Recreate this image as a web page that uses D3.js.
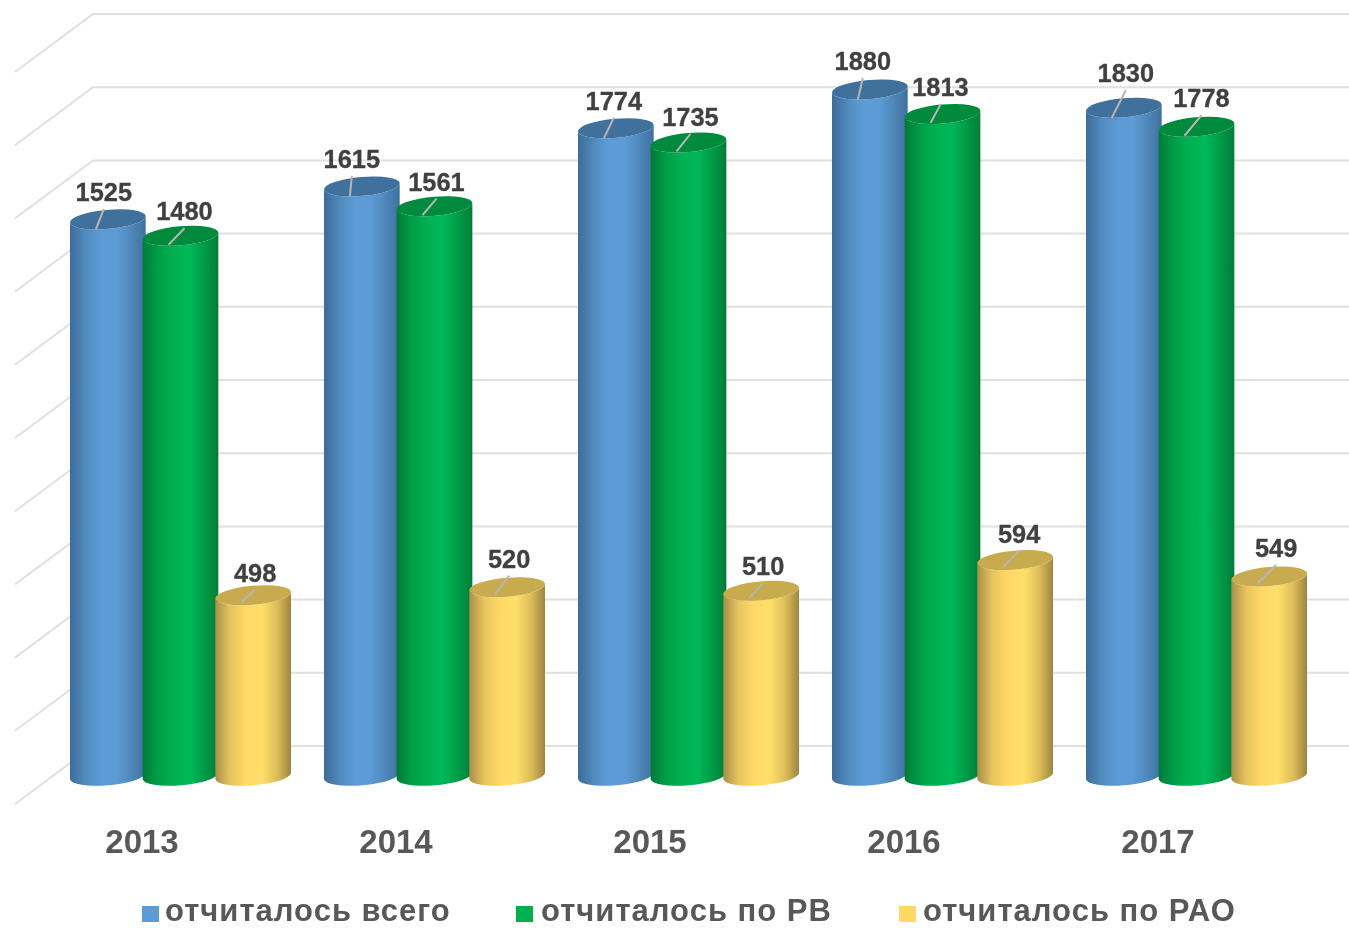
<!DOCTYPE html>
<html>
<head>
<meta charset="utf-8">
<script src="https://d3js.org/d3.v7.min.js"></script>
<style>
  html, body { margin: 0; padding: 0; background: #fff; }
  svg { display: block; }
  text { font-family: "Liberation Sans", Arial, sans-serif; font-weight: bold; }
</style>
</head>
<body>
<div id="chart"></div>
<script>
const years = ['2013', '2014', '2015', '2016', '2017']
const total = [1525, 1615, 1774, 1880, 1830]
const rv = [1480, 1561, 1735, 1813, 1778]
const rao = [498, 520, 510, 594, 549]
const seriesNames = ['отчиталось всего', 'отчиталось по РВ', 'отчиталось по РАО']
const seriesValues = [total, rv, rao]
const gridTicks = [0, 200, 400, 600, 800, 1000, 1200, 1400, 1600, 1800, 2000]

const width = 1349
const height = 928

// depth of the 3d box: back wall is shifted from the front plane by this much
const depthX = 78
const depthY = -58
const rx = 38
const ry = 9.5
const tilt = -5 * Math.PI / 180
const barDrop = 2.5

const palette = [
  { legend: '#5b9bd5', top: '#41719c', stops: ['#3d6c98', '#5089bd', '#5b9bd5', '#5b9bd5', '#4f86b8', '#3f729f'] },
  { legend: '#00b050', top: '#008a3e', stops: ['#007a37', '#009e48', '#00b050', '#00b857', '#009a46', '#007d39'] },
  { legend: '#ffd966', top: '#c9ab50', stops: ['#a8904a', '#e6c45e', '#ffd966', '#ffdf68', '#dcbc58', '#9c8540'] }
]

const svg = d3
  .select('#chart')
  .append('svg')
  .attr('width', width)
  .attr('height', height)

const defs = svg.append('defs')

defs
  .append('filter')
  .attr('id', 'soft')
  .attr('x', '-5%')
  .attr('y', '-5%')
  .attr('width', '110%')
  .attr('height', '110%')
  .append('feGaussianBlur')
  .attr('stdDeviation', 0.7)

palette.forEach((p, i) => {
  const grad = defs
    .append('linearGradient')
    .attr('id', 'cyl' + i)
    .attr('x1', 0)
    .attr('x2', 1)
    .attr('y1', 0)
    .attr('y2', 0)
  const offsets = [0, 0.2, 0.4, 0.62, 0.82, 1]
  p.stops.forEach((c, j) => {
    grad
      .append('stop')
      .attr('offset', offsets[j])
      .attr('stop-color', c)
  })
})

const root = svg.append('g').attr('filter', 'url(#soft)')

const xScale = d3
  .scaleBand()
  .domain(years)
  .range([15, 1285])

const seriesScale = d3
  .scaleBand()
  .domain(d3.range(seriesNames.length))
  .range([-109, 109])

const yScale = d3
  .scaleLinear()
  .domain([0, 2000])
  .range([804, 72])

// grid on the back wall plus the slanted part on the side wall
const grid = root.append('g')
gridTicks.forEach(t => {
  const y = yScale(t)
  grid
    .append('path')
    .attr('d', 'M15,' + y + 'L' + (15 + depthX) + ',' + (y + depthY) + 'H' + width)
    .attr('fill', 'none')
    .attr('stroke', '#e0e0e0')
    .attr('stroke-width', 2)
})

function cylinderPath(cx, yTop, yBase) {
  const dx = rx * Math.cos(tilt)
  const dy = rx * Math.sin(tilt)
  const deg = tilt * 180 / Math.PI
  return 'M' + (cx - dx) + ',' + (yTop - dy) +
    'L' + (cx - dx) + ',' + (yBase - dy) +
    'A' + rx + ',' + ry + ' ' + deg + ' 0 0 ' + (cx + dx) + ',' + (yBase + dy) +
    'L' + (cx + dx) + ',' + (yTop + dy) +
    'A' + rx + ',' + ry + ' ' + deg + ' 0 1 ' + (cx - dx) + ',' + (yTop - dy) + 'Z'
}

// where the foot of the leader line and the number sit relative to each cylinder top
const leader = [
  { x1: -12, y1: 10, tx: -4 },
  { x1: -12, y1: 9, tx: 4 },
  { x1: -12, y1: 7, tx: 2 }
]
// the labels were dragged by hand in the original, per series and year
const labelDx = [[0, -6, 2, -3, 6], [0, -2, -2, -6, 1], [0, 0, 0, 2, 5]]
const labelDy = [[0, 0, 0, -1, -7], [3, 3, 2, 1, -1], [5, -1, 3, 1, -1]]

const bars = root.append('g')
years.forEach((year, i) => {
  seriesValues.forEach((values, s) => {
    const cx = xScale(year) + xScale.bandwidth() / 2 + seriesScale(s) + seriesScale.bandwidth() / 2 + depthX / 2 - 0.5
    const yTop = yScale(values[i]) + depthY / 2 + barDrop
    const yBase = yScale(0) + depthY / 2 + 0.8
    const g = bars.append('g')
    g.append('path')
      .attr('d', cylinderPath(cx, yTop, yBase))
      .attr('fill', 'url(#cyl' + s + ')')
    g.append('ellipse')
      .attr('cx', cx)
      .attr('cy', yTop)
      .attr('rx', rx)
      .attr('ry', ry)
      .attr('transform', 'rotate(' + (tilt * 180 / Math.PI) + ' ' + cx + ' ' + yTop + ')')
      .attr('fill', palette[s].top)
    const l = leader[s]
    const labelX = cx + l.tx + labelDx[s][i]
    const labelY = yTop - 18.5 + labelDy[s][i]
    g.append('line')
      .attr('x1', cx + l.x1)
      .attr('y1', yTop + l.y1)
      .attr('x2', labelX)
      .attr('y2', labelY + 8)
      .attr('stroke', '#b5b5b5')
      .attr('stroke-width', 2)
    g.append('text')
      .attr('x', labelX)
      .attr('y', labelY)
      .attr('text-anchor', 'middle')
      .attr('font-size', 25.4)
      .attr('fill', '#404040')
      .attr('stroke', '#404040')
      .attr('stroke-width', 0.3)
      .text(values[i])
  })
})

// year labels come from the band axis
const xAxis = d3.axisBottom(xScale).tickSize(0).tickPadding(0)
const xAxisG = root
  .append('g')
  .attr('class', 'axis x-axis')
  .attr('transform', 'translate(0,830)')
  .call(xAxis)
xAxisG.select('.domain').remove()
xAxisG
  .selectAll('text')
  .attr('font-family', '"Liberation Sans", Arial, sans-serif')
  .attr('font-size', 33)
  .attr('fill', '#595959')

const legendSwatch = [142, 516, 899]
const legendText = [165, 541, 923]
const legend = root.append('g')
seriesNames.forEach((name, s) => {
  legend
    .append('rect')
    .attr('x', legendSwatch[s])
    .attr('y', 906)
    .attr('width', 17)
    .attr('height', 16)
    .attr('fill', palette[s].legend)
  legend
    .append('text')
    .attr('x', legendText[s])
    .attr('y', 921.4)
    .attr('font-size', 31)
    .attr('letter-spacing', 1)
    .attr('fill', '#595959')
    .text(name)
})
</script>
</body>
</html>
